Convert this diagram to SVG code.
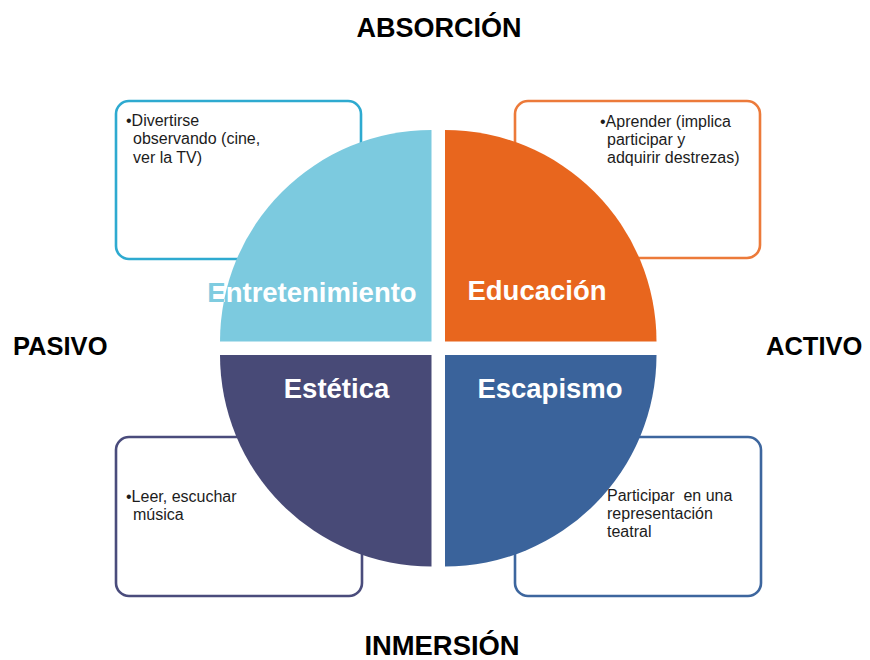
<svg xmlns="http://www.w3.org/2000/svg" width="870" height="660" viewBox="0 0 870 660">
  <defs>
    <style>
      .axis { font-family: "Liberation Sans", Arial, sans-serif; font-weight: bold; fill: #000; }
      .box { fill: #fff; stroke-width: 2.6; }
      .note { font-family: "Liberation Sans", Arial, sans-serif; font-size: 16px; fill: #1c1c1c; white-space: pre; }
      .qlabel { font-family: "Liberation Sans", Arial, sans-serif; font-weight: bold; font-size: 27.5px; fill: #fff; text-anchor: middle; }
    </style>
    <clipPath id="clipTL">
      <path d="M431.5 341.5 L220 341.5 A211.5 211.5 0 0 1 431.5 130 Z"/>
    </clipPath>
  </defs>
  <rect width="870" height="660" fill="#fff"/>

  <g id="axis-labels">
    <text class="axis" x="439" y="37" font-size="27" text-anchor="middle">ABSORCIÓN</text>
    <text class="axis" x="13" y="355" font-size="25.5">PASIVO</text>
    <text class="axis" x="766" y="355" font-size="25.5">ACTIVO</text>
    <text class="axis" x="442" y="655" font-size="27.4" text-anchor="middle">INMERSIÓN</text>
  </g>

  <g id="box-entretenimiento">
    <rect class="box" x="116" y="101" width="245" height="158" rx="13" stroke="#2eaad0"/>
    <text class="note" x="126" y="126">•Divertirse</text>
    <text class="note" x="133" y="144.3">observando (cine,</text>
    <text class="note" x="133" y="162.5">ver la TV)</text>
  </g>
  <g id="box-educacion">
    <rect class="box" x="515" y="101" width="245" height="157" rx="13" stroke="#ec7a3a"/>
    <text class="note" x="600" y="127">•Aprender (implica</text>
    <text class="note" x="607" y="145">participar y</text>
    <text class="note" x="607" y="163">adquirir destrezas)</text>
  </g>
  <g id="box-estetica">
    <rect class="box" x="116" y="437" width="246" height="159" rx="13" stroke="#4a4c7c"/>
    <text class="note" x="126" y="501.5">•Leer, escuchar</text>
    <text class="note" x="133" y="520">música</text>
  </g>
  <g id="box-escapismo">
    <rect class="box" x="515" y="437" width="246" height="159" rx="13" stroke="#3d669e"/>
    <text class="note" x="607" y="501" xml:space="preserve">Participar  en una</text>
    <text class="note" x="607" y="519">representación</text>
    <text class="note" x="607" y="537">teatral</text>
  </g>

  <g id="q-entretenimiento">
    <path d="M431.5 341.5 L220 341.5 A211.5 211.5 0 0 1 431.5 130 Z" fill="#7ccadf"/>
    <text class="qlabel" x="312" y="301.5" style="fill:#7fcce0">Entretenimiento</text>
    <text class="qlabel" x="312" y="301.5" clip-path="url(#clipTL)">Entretenimiento</text>
  </g>
  <g id="q-educacion">
    <path d="M445 341.5 L445 130 A211.5 211.5 0 0 1 656.5 341.5 Z" fill="#e8661e"/>
    <text class="qlabel" x="537" y="300">Educación</text>
  </g>
  <g id="q-estetica">
    <path d="M431.5 355 L431.5 566.5 A211.5 211.5 0 0 1 220 355 Z" fill="#484a77"/>
    <text class="qlabel" x="336.5" y="398">Estética</text>
  </g>
  <g id="q-escapismo">
    <path d="M445 355 L656.5 355 A211.5 211.5 0 0 1 445 566.5 Z" fill="#3a639b"/>
    <text class="qlabel" x="550" y="398">Escapismo</text>
  </g>
  <g id="connectors"/>
</svg>
